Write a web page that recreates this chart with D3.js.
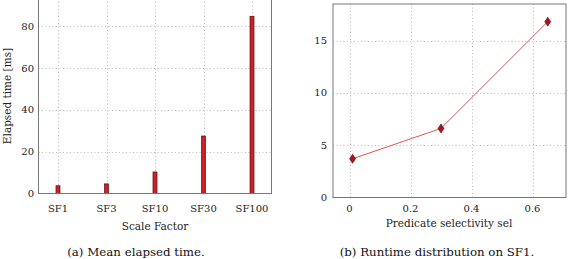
<!DOCTYPE html>
<html><head><meta charset="utf-8">
<script src="https://cdn.jsdelivr.net/npm/d3@7/dist/d3.min.js"></script>
<style>
html,body{margin:0;padding:0;background:#fff;}
svg{display:block;}
</style></head>
<body>
<svg id="c" width="573" height="259"></svg>
<script>
// ---- data ----
const categories = ["SF1", "SF3", "SF10", "SF30", "SF100"];
const elapsed = [3.7, 4.6, 10.3, 27.5, 84.8];
const leftYTicks = [0, 20, 40, 60, 80];

const selectivity = [0.01, 0.30, 0.65];
const runtime = [3.7, 6.6, 16.8];
const rightXTicks = [0, 0.2, 0.4, 0.6];
const rightXTickLabels = ["0", "0.2", "0.4", "0.6"];
const rightYTicks = [0, 5, 10, 15];

const FONT = "'DejaVu Serif', 'Liberation Serif', serif";
const svg = d3.select("#c").attr("font-family", FONT);
const frameCol = "#777", gridCol = "#bbb", tickFont = 10;

// ---- left chart ----
const L = {x0: 38.5, x1: 271.5, y0: 193.5, y1: -1.5};
const xl = d3.scalePoint().domain(categories).range([58, 252]);
const yl = d3.scaleLinear().domain([0, 93.3]).range([L.y0, L.y1]);
const gl = svg.append("g");
gl.selectAll("line.vg").data(categories).join("line")
  .attr("x1", d => Math.round(xl(d)) + 0.5).attr("x2", d => Math.round(xl(d)) + 0.5)
  .attr("y1", L.y1).attr("y2", L.y0)
  .attr("stroke", gridCol).attr("stroke-dasharray", "1,2.5");
gl.selectAll("line.hg").data(leftYTicks.filter(d => d > 0)).join("line")
  .attr("x1", L.x0).attr("x2", L.x1)
  .attr("y1", d => Math.round(yl(d)) + 0.5).attr("y2", d => Math.round(yl(d)) + 0.5)
  .attr("stroke", gridCol).attr("stroke-dasharray", "1,2.5");
gl.selectAll("rect.bar").data(elapsed).join("rect")
  .attr("x", (d, i) => xl(categories[i]) - 2)
  .attr("width", 4)
  .attr("y", d => yl(d)).attr("height", d => yl(0) - yl(d))
  .attr("fill", "#c8222a").attr("stroke", "#5a0a0a").attr("stroke-width", 0.7);
gl.append("rect").attr("x", L.x0).attr("y", L.y1).attr("width", L.x1 - L.x0).attr("height", L.y0 - L.y1)
  .attr("fill", "none").attr("stroke", frameCol);
gl.selectAll("text.yt").data(leftYTicks).join("text")
  .attr("x", 34).attr("y", d => yl(d) + 3.5).attr("text-anchor", "end")
  .attr("font-size", tickFont).attr("fill", "#222").text(d => d);
gl.selectAll("text.xt").data(categories).join("text")
  .attr("x", d => xl(d)).attr("y", 212).attr("text-anchor", "middle")
  .attr("font-size", tickFont).attr("fill", "#222").text(d => d);
gl.append("text").attr("x", 155).attr("y", 230).attr("text-anchor", "middle")
  .attr("font-size", 10.5).attr("fill", "#222").text("Scale Factor");
gl.append("text").attr("transform", "translate(11,96) rotate(-90)").attr("text-anchor", "middle")
  .attr("font-size", 10.5).attr("fill", "#222").text("Elapsed time [ms]");
gl.append("text").attr("x", 136).attr("y", 256).attr("text-anchor", "middle")
  .attr("font-size", 11.8).attr("fill", "#111").text("(a) Mean elapsed time.");

// ---- right chart ----
const R = {x0: 333, x1: 566, y0: 197.5, y1: 4};
const xr = d3.scaleLinear().domain([0, 0.6]).range([349.5, 532.5]);
const yr = d3.scaleLinear().domain([0, 15]).range([197.5, 40.5]);
const gr = svg.append("g");
gr.selectAll("line.vg").data(rightXTicks).join("line")
  .attr("x1", d => Math.round(xr(d)) + 0.5).attr("x2", d => Math.round(xr(d)) + 0.5)
  .attr("y1", R.y1).attr("y2", R.y0)
  .attr("stroke", gridCol).attr("stroke-dasharray", "1,2.5");
gr.selectAll("line.hg").data(rightYTicks.filter(d => d > 0)).join("line")
  .attr("x1", R.x0).attr("x2", R.x1)
  .attr("y1", d => Math.round(yr(d)) + 0.5).attr("y2", d => Math.round(yr(d)) + 0.5)
  .attr("stroke", gridCol).attr("stroke-dasharray", "1,2.5");
const pts = selectivity.map((s, i) => [s, runtime[i]]);
gr.append("path").datum(pts)
  .attr("d", d3.line().x(d => xr(d[0])).y(d => yr(d[1])))
  .attr("fill", "none").attr("stroke", "#e05555").attr("stroke-width", 1);
gr.selectAll("path.mk").data(pts).join("path")
  .attr("transform", d => `translate(${xr(d[0])},${yr(d[1])})`)
  .attr("d", "M0,-4.5L3,0L0,4.5L-3,0Z")
  .attr("fill", "#a5161c").attr("stroke", "#5a0a0a").attr("stroke-width", 0.6);
gr.append("rect").attr("x", R.x0).attr("y", R.y1).attr("width", R.x1 - R.x0).attr("height", R.y0 - R.y1)
  .attr("fill", "none").attr("stroke", frameCol);
gr.selectAll("text.yt").data(rightYTicks).join("text")
  .attr("x", 327).attr("y", d => yr(d) + 3.5).attr("text-anchor", "end")
  .attr("font-size", tickFont).attr("fill", "#222").text(d => d);
gr.selectAll("text.xt").data(rightXTicks).join("text")
  .attr("x", d => xr(d)).attr("y", 212).attr("text-anchor", "middle")
  .attr("font-size", tickFont).attr("fill", "#222").text((d, i) => rightXTickLabels[i]);
gr.append("text").attr("x", 449).attr("y", 227).attr("text-anchor", "middle")
  .attr("font-size", 10.5).attr("fill", "#222").text("Predicate selectivity sel");
gr.append("text").attr("x", 437).attr("y", 256).attr("text-anchor", "middle")
  .attr("font-size", 11.8).attr("fill", "#111").text("(b) Runtime distribution on SF1.");
</script>
</body></html>
